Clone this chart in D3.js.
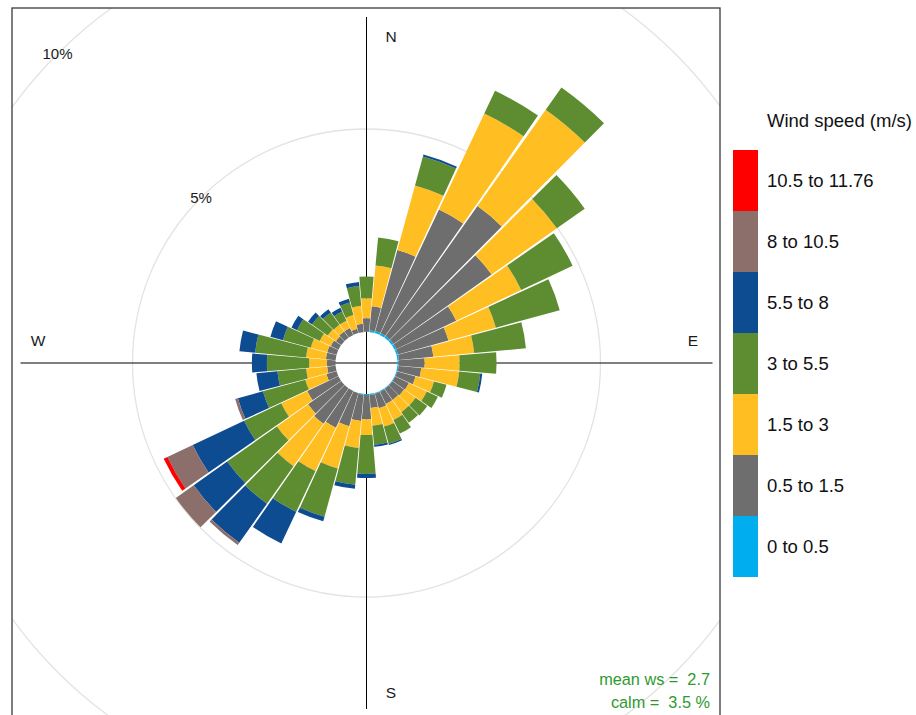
<!DOCTYPE html>
<html>
<head>
<meta charset="utf-8">
<script src="https://cdn.jsdelivr.net/npm/d3@7"></script>
<style>
    body { margin: 0; background: #fff; }
    svg { display: block; font-family: 'Liberation Sans', Arial, sans-serif; }
</style>
</head>
<body>
<svg id="chart" width="916" height="715"></svg>
<script>
/**
 * Wind rose: frequency of counts by wind direction (%), stacked by wind speed bin.
 */
const directions = d3.range(10, 361, 10);

const speedBins = ['0 to 0.5', '0.5 to 1.5', '1.5 to 3', '3 to 5.5', '5.5 to 8', '8 to 10.5', '10.5 to 11.76'];
const speedColors = ['#00aeef', '#6e6e6e', '#ffbf22', '#5e8c31', '#0e4c92', '#8c6f6b', '#ff0000'];

// Percent of all hours, per direction (10..360), one array per speed bin
const ws0to05 = [.04, .05, .05, .05, .05, .05, .04, .04, .03, .03, .02, .02, .02, .02, .02, .02, .03, .03,
    .02, 0, 0, 0, 0, 0, 0, 0, 0, 0, 0, 0, 0, 0, 0, 0, 0, .01];
const ws05to15 = [.60, 2.07, 3.37, 3.92, 2.96, 1.63, 1.29, .85, .64, .56, .47, .37, .35, .33, .33, .37, .32, .59,
    .65, .85, 1.00, 1.07, 1.00, .85, .26, .21, .21, .24, .24, .21, .16, .19, .19, .11, .21, .33];
const ws15to3 = [1.01, 1.65, 2.61, 2.91, 1.97, 1.77, 1.21, 1.01, .86, .94, .47, .49, .35, .37, .44, .47, .44, .39,
    .67, 1.08, 1.18, 1.28, .94, .71, .54, .52, .44, .49, .42, .30, .25, .20, .20, .35, .44, .49];
const ws3to55 = [.69, .74, .62, .67, .84, 1.40, 1.63, 1.28, .91, .52, .32, .30, .35, .32, .37, .44, .47, .96,
    .91, 1.23, 1.11, 1.13, 1.50, 1.01, 1.08, .71, 1.04, 1.26, .71, .62, .47, .37, .25, .32, .49, .54];
const ws55to8 = [0, .05, 0, 0, 0, 0, 0, 0, 0, .05, 0, 0, 0, 0, 0, .03, .05, .10,
    .10, .12, .86, 1.18, 1.01, 1.40, .64, .52, .37, .39, .32, .15, .12, .10, .10, .10, .10, 0];
const ws8to105 = [0, 0, 0, 0, 0, 0, 0, 0, 0, 0, 0, 0, 0, 0, 0, 0, 0, 0,
    0, 0, 0, .07, .54, .69, .07, 0, 0, 0, 0, 0, 0, 0, 0, 0, 0, 0];
const ws105to1176 = [0, 0, 0, 0, 0, 0, 0, 0, 0, 0, 0, 0, 0, 0, 0, 0, 0, 0,
    0, 0, 0, 0, 0, .10, 0, 0, 0, 0, 0, 0, 0, 0, 0, 0, 0, 0];

const gridLevels = [5, 10];
const meanWs = 2.7, calmPct = 3.5;

/**
 * Visual configs.
 */
const panel = { left: 12, top: 8, right: 720, bottom: 716 },
    cx = 366.5, cy = 363,
    axisHalf = 346,
    halfWidth = 5 - 10 / 36; // small angular gap between neighbouring bars

const svg = d3.select('#chart');
const rad = d => d * Math.PI / 180;

// Radius scale, offset by the calm circle in the middle
const r = d3.scaleLinear().domain([0, 10]).range([31, 437]);

const rows = directions.map((dir, i) => ({
    dir,
    s0: ws0to05[i], s1: ws05to15[i], s2: ws15to3[i], s3: ws3to55[i],
    s4: ws55to8[i], s5: ws8to105[i], s6: ws105to1176[i]
}));
const keys = ['s0', 's1', 's2', 's3', 's4', 's5', 's6'];
const series = d3.stack().keys(keys)(rows);

// Panel
svg.append('clipPath').attr('id', 'panel-clip')
    .append('rect')
        .attr('x', panel.left).attr('y', panel.top)
        .attr('width', panel.right - panel.left).attr('height', panel.bottom - panel.top);

const plot = svg.append('g').attr('clip-path', 'url(#panel-clip)');

// Grid circles
plot.selectAll('.grid').data(gridLevels).enter().append('circle')
    .attr('class', 'grid')
    .attr('cx', cx).attr('cy', cy)
    .attr('r', d => r(d))
    .style('fill', 'none')
    .style('stroke', '#e3e3e3')
    .style('stroke-width', 1.3);

// Axes through the centre
plot.append('line')
    .attr('x1', cx).attr('x2', cx).attr('y1', cy - axisHalf).attr('y2', cy + axisHalf)
    .style('stroke', '#000').style('stroke-width', 1);
plot.append('line')
    .attr('x1', cx - axisHalf).attr('x2', cx + axisHalf).attr('y1', cy).attr('y2', cy)
    .style('stroke', '#000').style('stroke-width', 1);

// Stacked bars
const arc = d3.arc()
    .innerRadius(d => r(d[0]))
    .outerRadius(d => r(d[1]))
    .startAngle(d => rad(d.data.dir - halfWidth))
    .endAngle(d => rad(d.data.dir + halfWidth));

const bars = plot.append('g').attr('transform', 'translate(' + cx + ',' + cy + ')');
bars.selectAll('.bin').data(series).enter().append('g')
    .attr('class', 'bin')
    .style('fill', (d, i) => speedColors[i])
    .selectAll('path').data(d => d.filter(x => x[1] - x[0] > 0)).enter().append('path')
        .attr('d', arc);

// Grid labels at 315 degrees
plot.selectAll('.grid-label').data(gridLevels).enter().append('text')
    .attr('class', 'grid-label')
    .attr('x', d => cx - r(d) * Math.SQRT1_2)
    .attr('y', d => cy - r(d) * Math.SQRT1_2)
    .attr('dy', '0.36em')
    .attr('text-anchor', 'middle')
    .style('font-size', '15px')
    .style('fill', '#1a1a1a')
    .text(d => d + '%');

// Compass labels
const compass = [
    { t: 'N', x: cx + 24.5, y: cy - 327 },
    { t: 'S', x: cx + 24.5, y: cy + 329 },
    { t: 'W', x: cx - 328.5, y: cy - 23 },
    { t: 'E', x: cx + 326.5, y: cy - 23 }
];
plot.selectAll('.compass').data(compass).enter().append('text')
    .attr('class', 'compass')
    .attr('x', d => d.x).attr('y', d => d.y)
    .attr('dy', '0.36em')
    .attr('text-anchor', 'middle')
    .style('font-size', '15.5px')
    .style('fill', '#1a1a1a')
    .text(d => d.t);

// Summary text
const summary = ['mean ws =  ' + meanWs, 'calm =  ' + calmPct + ' %'];
plot.selectAll('.summary').data(summary).enter().append('text')
    .attr('class', 'summary')
    .attr('x', 710)
    .attr('y', (d, i) => 685 + i * 23)
    .attr('text-anchor', 'end')
    .style('font-size', '16.3px')
    .style('fill', '#2e9a2e')
    .style('white-space', 'pre')
    .text(d => d);

svg.append('rect')
    .attr('x', panel.left).attr('y', panel.top)
    .attr('width', panel.right - panel.left).attr('height', panel.bottom - panel.top)
    .style('fill', 'none')
    .style('stroke', '#3a3a3a')
    .style('stroke-width', 1.3);

// Legend
const legend = svg.append('g').attr('class', 'legend');
legend.append('text')
    .attr('x', 767).attr('y', 120).attr('dy', '0.36em')
    .style('font-size', '18.5px').style('fill', '#111')
    .text('Wind speed (m/s)');

const legendY = d3.scaleBand()
    .domain(speedBins.slice().reverse())
    .range([150, 577]);

const items = legend.selectAll('.item').data(speedBins).enter().append('g').attr('class', 'item');
items.append('rect')
    .attr('x', 733).attr('width', 25)
    .attr('y', d => legendY(d))
    .attr('height', legendY.bandwidth())
    .style('fill', (d, i) => speedColors[i]);
items.append('text')
    .attr('x', 767)
    .attr('y', d => legendY(d) + legendY.bandwidth() / 2)
    .attr('dy', '0.36em')
    .style('font-size', '18.5px').style('fill', '#111')
    .text(d => d);
</script>
</body>
</html>
